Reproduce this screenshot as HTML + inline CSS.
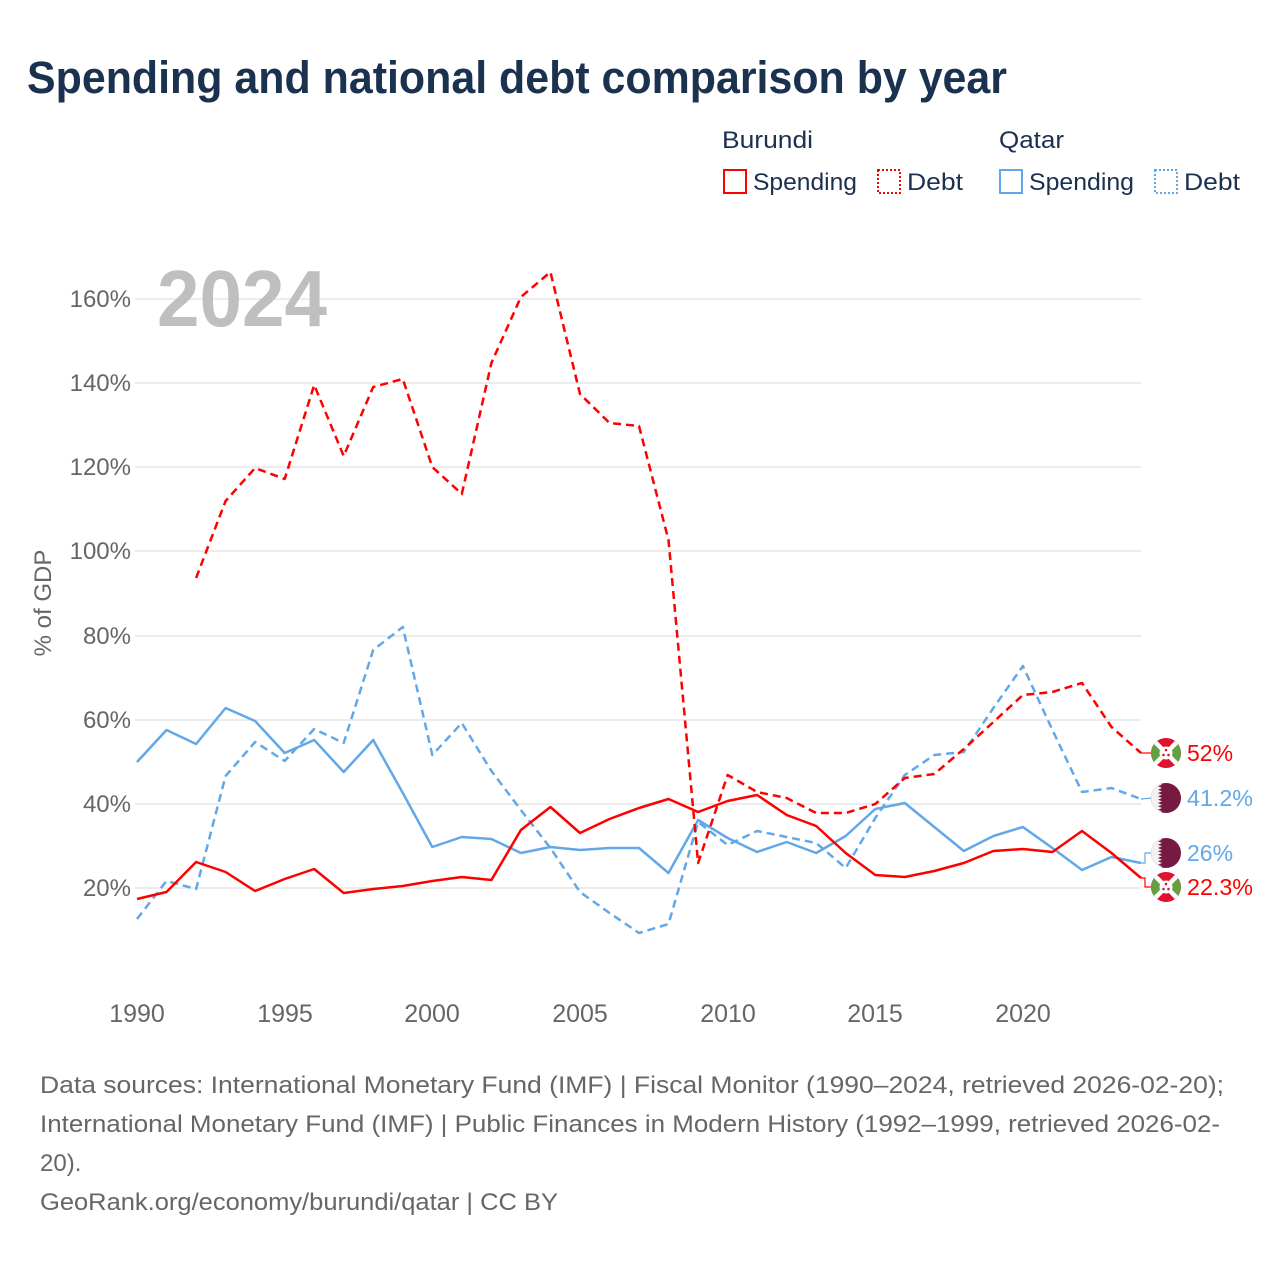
<!DOCTYPE html>
<html>
<head>
<meta charset="utf-8">
<style>
  html, body { margin: 0; padding: 0; background: #ffffff; }
  svg { display: block; }
  text { font-family: "Liberation Sans", "DejaVu Sans", sans-serif; }
</style>
</head>
<body>
<svg width="1280" height="1280" viewBox="0 0 1280 1280" xmlns="http://www.w3.org/2000/svg">
  <defs>
    <clipPath id="c1"><circle cx="1166" cy="753" r="15"/></clipPath>
    <clipPath id="c2"><circle cx="1166" cy="798" r="15"/></clipPath>
    <clipPath id="c3"><circle cx="1166" cy="853" r="15"/></clipPath>
    <clipPath id="c4"><circle cx="1166" cy="887" r="15"/></clipPath>
  </defs>

  <!-- Title -->
  <text x="27" y="93" font-size="45" font-weight="bold" fill="#1b3150" textLength="980" lengthAdjust="spacingAndGlyphs">Spending and national debt comparison by year</text>

  <!-- Legend -->
  <text x="722" y="148" font-size="24" fill="#1b3150" textLength="91" lengthAdjust="spacingAndGlyphs">Burundi</text>
  <text x="999" y="148" font-size="24" fill="#1b3150" textLength="65" lengthAdjust="spacingAndGlyphs">Qatar</text>

  <rect x="724" y="170" width="22" height="23" fill="none" stroke="#ff0000" stroke-width="2"/>
  <text x="753" y="190" font-size="24" fill="#1b3150" textLength="104" lengthAdjust="spacingAndGlyphs">Spending</text>
  <rect x="878" y="170" width="22" height="23" fill="none" stroke="#ff0000" stroke-width="2" stroke-dasharray="2,2"/>
  <text x="907" y="190" font-size="24" fill="#1b3150" textLength="56" lengthAdjust="spacingAndGlyphs">Debt</text>

  <rect x="1000" y="170" width="22" height="23" fill="none" stroke="#62a8e8" stroke-width="2"/>
  <text x="1029" y="190" font-size="24" fill="#1b3150" textLength="105" lengthAdjust="spacingAndGlyphs">Spending</text>
  <rect x="1155" y="170" width="22" height="23" fill="none" stroke="#62a8e8" stroke-width="2" stroke-dasharray="2,2"/>
  <text x="1184" y="190" font-size="24" fill="#1b3150" textLength="56" lengthAdjust="spacingAndGlyphs">Debt</text>

  <!-- Gridlines -->
  <g stroke="#e6e6e6" stroke-width="1.5">
    <line x1="135" y1="299" x2="1141" y2="299"/>
    <line x1="135" y1="383" x2="1141" y2="383"/>
    <line x1="135" y1="467" x2="1141" y2="467"/>
    <line x1="135" y1="551" x2="1141" y2="551"/>
    <line x1="135" y1="636" x2="1141" y2="636"/>
    <line x1="135" y1="720" x2="1141" y2="720"/>
    <line x1="135" y1="804" x2="1141" y2="804"/>
    <line x1="135" y1="888" x2="1141" y2="888"/>
  </g>

  <!-- Big year -->
  <text x="157" y="326" font-size="80" font-weight="bold" fill="#bfbfbf" textLength="170" lengthAdjust="spacingAndGlyphs">2024</text>

  <!-- Y labels -->
  <g font-size="24" fill="#666666" text-anchor="end">
    <text x="131" y="307">160%</text>
    <text x="131" y="391">140%</text>
    <text x="131" y="475">120%</text>
    <text x="131" y="559">100%</text>
    <text x="131" y="644">80%</text>
    <text x="131" y="728">60%</text>
    <text x="131" y="812">40%</text>
    <text x="131" y="896">20%</text>
  </g>
  <text transform="translate(51,603) rotate(-90)" font-size="24" fill="#666666" text-anchor="middle">% of GDP</text>

  <!-- X labels -->
  <g font-size="25" fill="#666666" text-anchor="middle">
    <text x="137" y="1022">1990</text>
    <text x="285" y="1022">1995</text>
    <text x="432" y="1022">2000</text>
    <text x="580" y="1022">2005</text>
    <text x="728" y="1022">2010</text>
    <text x="875" y="1022">2015</text>
    <text x="1023" y="1022">2020</text>
  </g>

  <!-- Qatar debt (dashed blue) -->
  <polyline fill="none" stroke="#62a8e8" stroke-width="2.5" stroke-dasharray="8,5" stroke-linejoin="round"
    points="137,919 166.5,881 196.1,889 225.6,776 255.1,742 284.7,761 314.2,729 343.7,743 373.2,650 402.8,627 432.3,755 461.8,723 491.4,771 520.9,810 550.4,848 580,892 609.5,913 639,933 668.5,924 698.1,822 727.6,845 757.1,831 786.7,837 816.2,843 845.7,868 875.3,818 904.8,775 934.3,755 963.8,752 993.4,708 1022.9,666 1052.4,730 1082,792 1111.5,788 1141,799"/>

  <!-- Qatar spending (solid blue) -->
  <polyline fill="none" stroke="#62a8e8" stroke-width="2.5" stroke-linejoin="round"
    points="137,762 166.5,730 196.1,744 225.6,708 255.1,721 284.7,753 314.2,740 343.7,772 373.2,740 402.8,793 432.3,847 461.8,837 491.4,839 520.9,853 550.4,847 580,850 609.5,848 639,848 668.5,873 698.1,820 727.6,838 757.1,852 786.7,842 816.2,853 845.7,836 875.3,809 904.8,803 934.3,827 963.8,851 993.4,836 1022.9,827 1052.4,848 1082,870 1111.5,857 1141,863"/>

  <!-- Burundi debt (dashed red) -->
  <polyline fill="none" stroke="#ff0000" stroke-width="2.5" stroke-dasharray="8,5" stroke-linejoin="round"
    points="196.1,578 225.6,501 255.1,468 284.7,479 314.2,385 343.7,456 373.2,387 402.8,379 432.3,467 461.8,494 491.4,363 520.9,297 550.4,272 580,394 609.5,423 639,426 668.5,540 698.1,863 727.6,775 757.1,792 786.7,798 816.2,813 845.7,813 875.3,804 904.8,778 934.3,774 963.8,749 993.4,722 1022.9,695 1052.4,692 1082,683 1111.5,727 1141,753"/>

  <!-- Burundi spending (solid red) -->
  <polyline fill="none" stroke="#ff0000" stroke-width="2.5" stroke-linejoin="round"
    points="137,899 166.5,892 196.1,862 225.6,872 255.1,891 284.7,879 314.2,869 343.7,893 373.2,889 402.8,886 432.3,881 461.8,877 491.4,880 520.9,830 550.4,807 580,833 609.5,819 639,808 668.5,799 698.1,812 727.6,801 757.1,795 786.7,815 816.2,826 845.7,853 875.3,875 904.8,877 934.3,871 963.8,863 993.4,851 1022.9,849 1052.4,852 1082,831 1111.5,853 1141,878"/>

  <!-- Leader lines -->
  <polyline fill="none" stroke="#ff0000" stroke-width="1.2" points="1141,753 1152,753"/>
  <polyline fill="none" stroke="#62a8e8" stroke-width="1.2" points="1141,799 1152,798"/>
  <polyline fill="none" stroke="#62a8e8" stroke-width="1.2" points="1141,863 1145,863 1145,853 1152,853"/>
  <polyline fill="none" stroke="#ff0000" stroke-width="1.2" points="1141,878 1145,878 1145,887 1152,887"/>

  <!-- Burundi flag (debt) -->
  <g clip-path="url(#c1)">
    <rect x="1151" y="738" width="30" height="30" fill="#e0102f"/>
    <polygon points="1151,738 1166,753 1151,768" fill="#64a043"/>
    <polygon points="1181,738 1166,753 1181,768" fill="#64a043"/>
    <line x1="1151" y1="738" x2="1181" y2="768" stroke="#ffffff" stroke-width="4.5"/>
    <line x1="1181" y1="738" x2="1151" y2="768" stroke="#ffffff" stroke-width="4.5"/>
    <circle cx="1166" cy="753" r="6.5" fill="#ffffff"/>
    <circle cx="1166" cy="750" r="1.3" fill="#e0102f"/>
    <circle cx="1163.5" cy="755" r="1.3" fill="#e0102f"/>
    <circle cx="1168.5" cy="755" r="1.3" fill="#e0102f"/>
  </g>
  <!-- Qatar flag (debt) -->
  <g clip-path="url(#c2)">
    <rect x="1151" y="783" width="30" height="30" fill="#761a42"/>
    <polygon points="1151,783 1158,783 1162,784.7 1158,786.3 1162,788 1158,789.7 1162,791.3 1158,793 1162,794.7 1158,796.3 1162,798 1158,799.7 1162,801.3 1158,803 1162,804.7 1158,806.3 1162,808 1158,809.7 1162,811.3 1158,813 1151,813" fill="#f2f2f2"/>
  </g>
  <!-- Qatar flag (spending) -->
  <g clip-path="url(#c3)">
    <rect x="1151" y="838" width="30" height="30" fill="#761a42"/>
    <polygon points="1151,838 1158,838 1162,839.7 1158,841.3 1162,843 1158,844.7 1162,846.3 1158,848 1162,849.7 1158,851.3 1162,853 1158,854.7 1162,856.3 1158,858 1162,859.7 1158,861.3 1162,863 1158,864.7 1162,866.3 1158,868 1151,868" fill="#f2f2f2"/>
  </g>
  <!-- Burundi flag (spending) -->
  <g clip-path="url(#c4)">
    <rect x="1151" y="872" width="30" height="30" fill="#e0102f"/>
    <polygon points="1151,872 1166,887 1151,902" fill="#64a043"/>
    <polygon points="1181,872 1166,887 1181,902" fill="#64a043"/>
    <line x1="1151" y1="872" x2="1181" y2="902" stroke="#ffffff" stroke-width="4.5"/>
    <line x1="1181" y1="872" x2="1151" y2="902" stroke="#ffffff" stroke-width="4.5"/>
    <circle cx="1166" cy="887" r="6.5" fill="#ffffff"/>
    <circle cx="1166" cy="884" r="1.3" fill="#e0102f"/>
    <circle cx="1163.5" cy="889" r="1.3" fill="#e0102f"/>
    <circle cx="1168.5" cy="889" r="1.3" fill="#e0102f"/>
  </g>

  <!-- End labels -->
  <text x="1187" y="761" font-size="23" fill="#ff0000">52%</text>
  <text x="1187" y="806" font-size="23" fill="#62a8e8" textLength="66" lengthAdjust="spacingAndGlyphs">41.2%</text>
  <text x="1187" y="861" font-size="23" fill="#62a8e8">26%</text>
  <text x="1187" y="895" font-size="23" fill="#ff0000" textLength="66" lengthAdjust="spacingAndGlyphs">22.3%</text>

  <!-- Footer -->
  <g font-size="24" fill="#666666">
    <text x="40" y="1093" textLength="1184" lengthAdjust="spacingAndGlyphs">Data sources: International Monetary Fund (IMF) | Fiscal Monitor (1990–2024, retrieved 2026-02-20);</text>
    <text x="40" y="1132" textLength="1180" lengthAdjust="spacingAndGlyphs">International Monetary Fund (IMF) | Public Finances in Modern History (1992–1999, retrieved 2026-02-</text>
    <text x="40" y="1171">20).</text>
    <text x="40" y="1210" textLength="518" lengthAdjust="spacingAndGlyphs">GeoRank.org/economy/burundi/qatar | CC BY</text>
  </g>
</svg>
</body>
</html>
